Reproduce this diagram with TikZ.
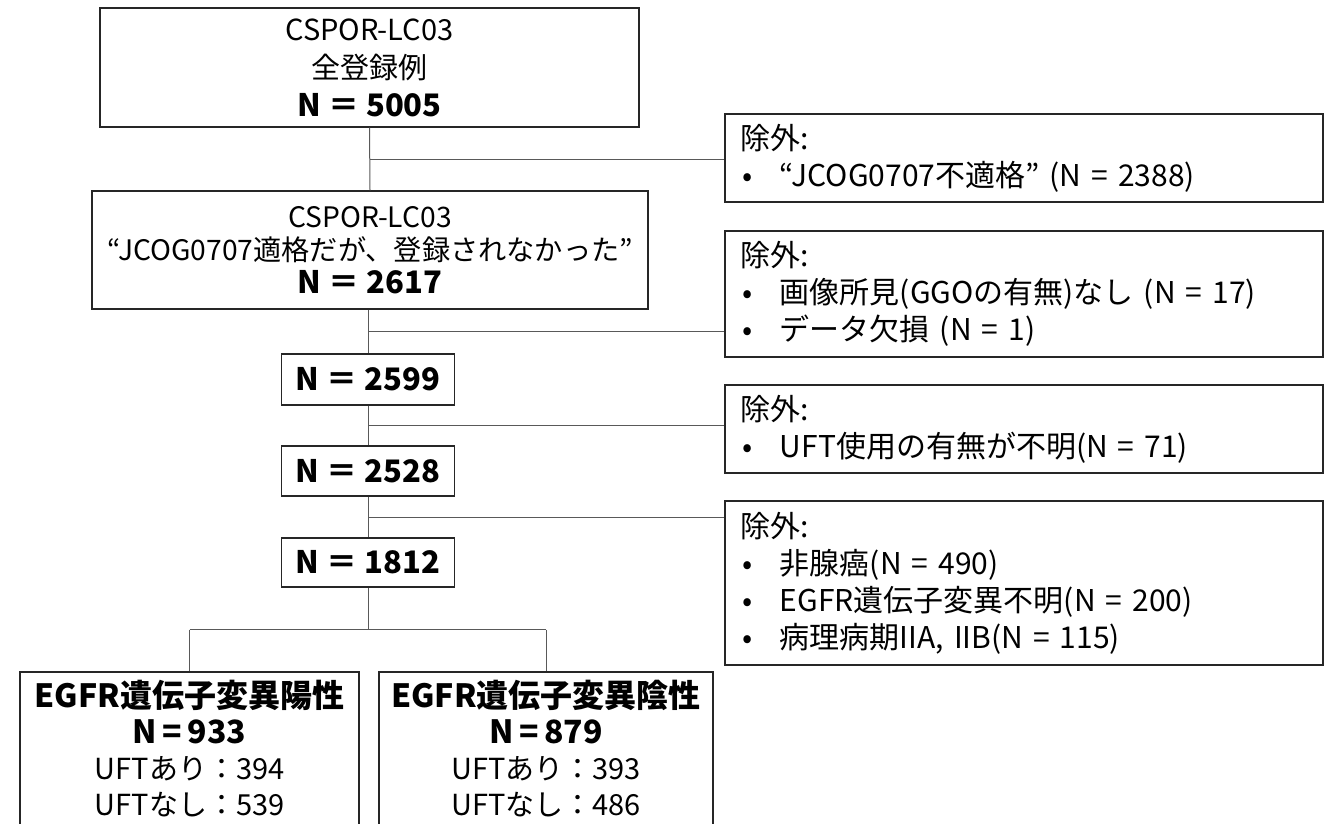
\documentclass[tikz,border=0pt]{standalone}
\usepackage{fontspec}
\setmainfont{Noto Sans CJK JP}
\usetikzlibrary{calc}
\definecolor{boxc}{HTML}{262626}
\definecolor{connc}{HTML}{595959}
\tikzset{
  box/.style={draw=boxc, line width=1.4pt, inner sep=0pt, align=center, text=black},
  exbox/.style={draw=boxc, line width=1.4pt, minimum width=598pt, text width=568pt,
    inner xsep=15pt, inner ysep=0pt, align=left, text=black,
    font=\fontsize{30}{37}\selectfont},
  conn/.style={draw=connc, line width=1pt},
}
\newcommand\bul{\makebox[40pt][l]{\hspace{2pt}•}}
\newcommand\bignum{\bfseries\fontsize{31}{36}\selectfont}
\newcommand\grpfont{\bfseries\fontsize{32}{36}\selectfont}
\begin{document}
\begin{tikzpicture}[x=1pt,y=-1pt]
\useasboundingbox (0,0) rectangle (1332,823);
\clip (0,0) rectangle (1332,823);

% main trunk boxes
\node[box, minimum width=539pt, minimum height=119pt, font=\fontsize{29}{38}\selectfont]
  (b1) at (369.5,67.5) {CSPOR-LC03\\全登録例\\{\bignum N ＝ 5005}};
\node[box, minimum width=556pt, minimum height=118pt, font=\fontsize{28.2}{33}\selectfont]
  (b2) at (370,250) {CSPOR-LC03\\“JCOG0707適格だが、登録されなかった”\\{\bignum N ＝ 2617}};
\node[box, minimum width=173pt, minimum height=51pt, font=\bignum] (n1) at (368,379.5) {N ＝ 2599};
\node[box, minimum width=173pt, minimum height=50pt, font=\bignum] (n2) at (368,471) {N ＝ 2528};
\node[box, minimum width=173pt, minimum height=49pt, font=\bignum] (n3) at (368,562.5) {N ＝ 1812};

% exclusion boxes
\node[exbox, minimum height=88pt] (e1) at (1024,158)
  {除外:\\\bul “JCOG0707不適格” (N = 2388)};
\node[exbox, minimum height=126pt] (e2) at (1024,294)
  {除外:\\\bul 画像所見(GGOの有無)なし (N = 17)\\\bul データ欠損 (N = 1)};
\node[exbox, minimum height=88pt] (e3) at (1024,429)
  {除外:\\\bul UFT使用の有無が不明(N = 71)};
\node[exbox, minimum height=164pt] (e4) at (1024,583)
  {除外:\\\bul 非腺癌(N = 490)\\\bul EGFR遺伝子変異不明(N = 200)\\\bul 病理病期IIA, IIB(N = 115)};

% result boxes
\node[box, minimum width=339pt, minimum height=154pt, font=\fontsize{29}{36}\selectfont]
  (g1) at (189.5,749) {{\grpfont EGFR遺伝子変異陽性}\\{\grpfont N\,=\,933}\\UFTあり：394\\UFTなし：539};
\node[box, minimum width=334pt, minimum height=154pt, font=\fontsize{29}{36}\selectfont]
  (g2) at (546,749) {{\grpfont EGFR遺伝子変異陰性}\\{\grpfont N\,=\,879}\\UFTあり：393\\UFTなし：486};

% connectors
\draw[conn] (b1.south) -- (b2.north);
\coordinate (m1) at ($(b1.south)!0.5!(b2.north)$);
\draw[conn] (m1) -- (m1 -| e1.west);

\draw[conn] (b2.south -| n1.north) -- (n1.north);
\coordinate (m2) at ($(b2.south -| n1.north)!0.5!(n1.north)$);
\draw[conn] (m2) -- (m2 -| e2.west);

\draw[conn] (n1.south) -- (n2.north);
\coordinate (m3) at ($(n1.south)!0.5!(n2.north)$);
\draw[conn] (m3) -- (m3 -| e3.west);

\draw[conn] (n2.south) -- (n3.north);
\coordinate (m4) at ($(n2.south)!0.5!(n3.north)$);
\draw[conn] (m4) -- (m4 -| e4.west);

\coordinate (sp) at ($(n3.south)+(0,42)$);
\draw[conn] (n3.south) -- (sp);
\draw[conn] (sp -| g1.north) -- (sp -| g2.north);
\draw[conn] (sp -| g1.north) -- (g1.north);
\draw[conn] (sp -| g2.north) -- (g2.north);
\end{tikzpicture}
\end{document}
